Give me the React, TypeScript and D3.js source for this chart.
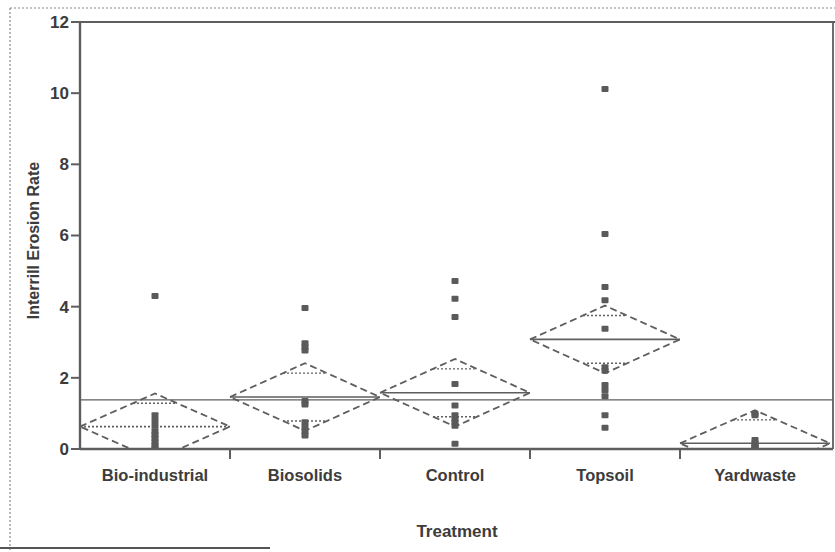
import React from "react";
import * as d3 from "d3";

const categories = ["Bio-industrial", "Biosolids", "Control", "Topsoil", "Yardwaste"];
const bioIndustrial = [4.3, 0.95, 0.8, 0.65, 0.5, 0.4, 0.3, 0.2, 0.1, 0.03];
const biosolids = [3.96, 2.97, 2.87, 2.77, 1.35, 1.25, 0.75, 0.62, 0.5, 0.38];
const control = [4.72, 4.22, 3.71, 1.83, 1.22, 0.95, 0.85, 0.75, 0.65, 0.15];
const topsoil = [10.12, 6.04, 4.55, 4.18, 3.38, 2.3, 2.2, 1.8, 1.65, 1.48, 0.95, 0.6];
const yardwaste = [1.0, 0.95, 0.25, 0.17, 0.1, 0.05, 0.02];
const groupMeans = [0.63, 1.46, 1.58, 3.08, 0.16];
const ciHalfWidths = [0.93, 0.95, 0.95, 0.95, 0.93];
const yTicks = [0, 2, 4, 6, 8, 10, 12];
const xTitle = "Treatment";
const yTitle = "Interrill Erosion Rate";

const groups = [bioIndustrial, biosolids, control, topsoil, yardwaste];

const W = 835;
const H = 552;
const left = 80;
const right = 830;
const top = 22;
const bottom = 449;

const LINE = "#5e5e5e";
const TEXT = "#3c3c3c";
const FONT = "'Liberation Sans', Arial, sans-serif";

export default function App() {
  const x = d3.scaleBand<string>().domain(categories).range([left, right]).padding(0);
  const y = d3.scaleLinear().domain([0, 12]).range([bottom, top]);
  const grandMean = d3.mean(groupMeans) as number;
  const bw = x.bandwidth();

  return (
    <svg
      width={W}
      height={H}
      style={{ position: "absolute", left: 0, top: 0, background: "#fff" }}
      fontFamily={FONT}
    >
      <defs>
        <clipPath id="plotclip">
          <rect x={left} y={top} width={833 - left} height={bottom - top} />
        </clipPath>
      </defs>
      {/* outer scan frame */}
      <line x1={10} y1={8} x2={835} y2={8} stroke="#888" strokeWidth={1.2} strokeDasharray="2,2" />
      <line x1={10} y1={8} x2={10} y2={552} stroke="#888" strokeWidth={1.2} strokeDasharray="2,2" />
      <line x1={0} y1={548} x2={270} y2={548} stroke="#555" strokeWidth={2} />

      <g clipPath="url(#plotclip)">
        {/* grand mean */}
        <line x1={left} x2={833} y1={y(grandMean)} y2={y(grandMean)} stroke={LINE} strokeWidth={1.3} />
        {categories.map((c, i) => {
          const x0 = x(c) as number;
          const x1 = x0 + bw;
          const cx = x0 + bw / 2;
          const m = groupMeans[i];
          const h = ciHalfWidths[i];
          const diamond = d3.line()([
            [x0, y(m)],
            [cx, y(m + h)],
            [x1, y(m)],
            [cx, y(m - h)],
            [x0, y(m)],
          ]);
          const ov = h / Math.SQRT2;
          const ovHalf = (bw / 2) * (1 - 1 / Math.SQRT2);
          return (
            <g key={c}>
              <path d={diamond as string} fill="none" stroke={LINE} strokeWidth={1.8} strokeDasharray="7,4" />
              <line x1={x0} x2={x1} y1={y(m)} y2={y(m)} stroke={LINE} strokeWidth={1.6} strokeDasharray={i === 0 ? "2,2" : undefined} />
              <line x1={cx - ovHalf} x2={cx + ovHalf} y1={y(m + ov)} y2={y(m + ov)} stroke={LINE} strokeWidth={1.4} strokeDasharray="2,2" />
              <line x1={cx - ovHalf} x2={cx + ovHalf} y1={y(m - ov)} y2={y(m - ov)} stroke={LINE} strokeWidth={1.4} strokeDasharray="2,2" />
              {groups[i].map((v, j) => (
                <rect key={j} x={cx - 3.5} y={y(v) - 3} width={7} height={6} fill="#5a5a5a" rx={1} />
              ))}
            </g>
          );
        })}
      </g>

      {/* plot frame */}
      <line x1={left} x2={835} y1={top} y2={top} stroke={LINE} strokeWidth={2.2} />
      <line x1={833} x2={833} y1={top} y2={bottom} stroke={LINE} strokeWidth={1.8} />
      <line x1={left} x2={833} y1={bottom} y2={bottom} stroke={LINE} strokeWidth={2.4} />
      <line x1={left} x2={left} y1={top} y2={bottom} stroke={LINE} strokeWidth={2.4} />

      {/* y axis */}
      {yTicks.map((t) => (
        <g key={t}>
          <line x1={left - 9} x2={left} y1={y(t)} y2={y(t)} stroke={LINE} strokeWidth={2} />
          <text x={left - 11} y={y(t)} dy="0.35em" textAnchor="end" fontSize={17} fontWeight="bold" fill={TEXT}>
            {t}
          </text>
        </g>
      ))}
      <text
        transform={`translate(39,${(top + bottom) / 2 + 5}) rotate(-90)`}
        textAnchor="middle"
        fontSize={16}
        fontWeight="bold"
        fill={TEXT}
      >
        {yTitle}
      </text>

      {/* x axis */}
      {categories.slice(1).map((c) => (
        <line key={c} x1={x(c) as number} x2={x(c) as number} y1={bottom} y2={bottom + 10} stroke={LINE} strokeWidth={2} />
      ))}
      {categories.map((c) => (
        <text key={c} x={(x(c) as number) + bw / 2} y={481} textAnchor="middle" fontSize={16.5} fontWeight="bold" fill={TEXT}>
          {c}
        </text>
      ))}
      <text x={457} y={537} textAnchor="middle" fontSize={17} fontWeight="bold" fill={TEXT}>
        {xTitle}
      </text>
    </svg>
  );
}
